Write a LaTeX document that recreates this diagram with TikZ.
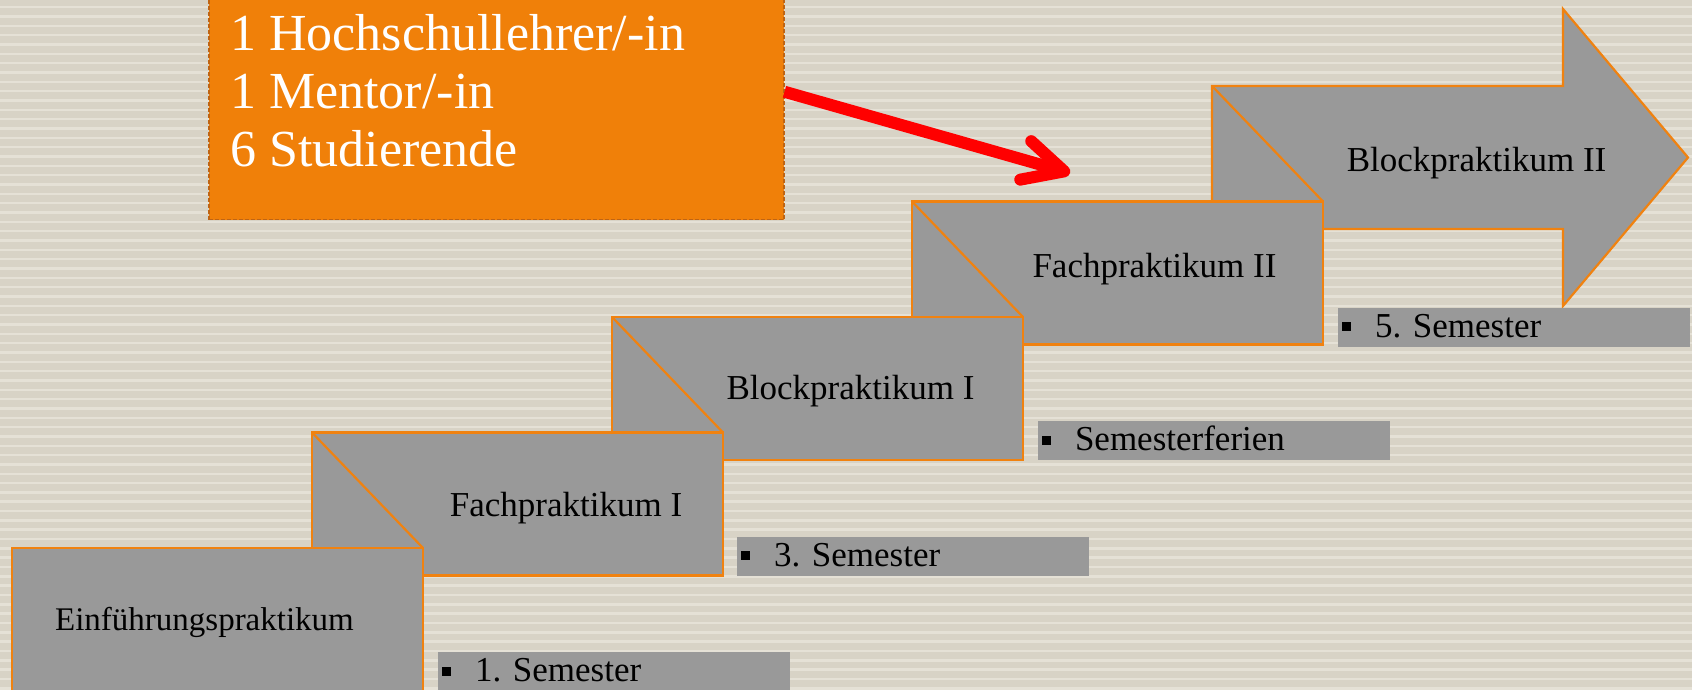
\documentclass[tikz,border=0pt]{standalone}
\usepackage{fontspec}
\setmainfont{Liberation Serif}
\usepackage{tikz}
\usetikzlibrary{arrows.meta,positioning,calc}

\definecolor{bgbeige}{RGB}{216,211,198}
\definecolor{bgstripe}{RGB}{229,225,214}
\definecolor{stepgray}{RGB}{153,153,153}
\definecolor{steporange}{RGB}{240,130,16}
\definecolor{infoorange}{RGB}{240,128,9}
\definecolor{infoborder}{RGB}{190,100,20}

\frenchspacing
\newcommand{\sqbullet}{\noindent\raisebox{6pt}{\rule{9pt}{9pt}}\hspace{24pt}}

\begin{document}
\begin{tikzpicture}[
    x=1pt, y=1pt,
    stepbox/.style={rectangle, draw=steporange, line width=2.2pt, fill=stepgray, minimum width=411pt, minimum height=143pt, inner sep=0pt, outer sep=0pt},
    stepline/.style={draw=steporange, line width=2.2pt},
    steptext/.style={anchor=base, inner sep=0pt, font=\fontsize{35}{42}\selectfont},
    semlabel/.style={rectangle, fill=stepgray, minimum width=352pt, minimum height=39pt, inner xsep=4pt, inner ysep=0pt, outer sep=0pt, text width=344pt, align=left, text height=20pt, text depth=0pt, font=\fontsize{35}{42}\selectfont},
    infobox/.style={rectangle, fill=infoorange, draw=infoborder, line width=1.5pt, dash pattern=on 4pt off 2pt, minimum width=575pt, minimum height=225pt, inner sep=0pt},
    infotext/.style={align=left, inner sep=0pt, text=white, font=\fontsize{52}{58}\selectfont},
    arrow/.style={-{Straight Barb[length=40pt, width=40pt, round]}, line width=12pt, red}
]

\useasboundingbox (0,0) rectangle (1692,689);
\clip (0,0) rectangle (1692,689);

% Background
\fill[bgbeige] (0,0) rectangle (1692,689);
\foreach \i in {0,...,73}
    \fill[bgstripe] (0,{683-\i*9.33}) rectangle ++(1692,-2.5);

% Last step (arrow)
\coordinate (s5) at (1212,460);
\draw[stepline, fill=stepgray] (s5) -- ++(0,143) coordinate (s5top) -- ++(351,0) -- ++(0,77) -- ++(125,-148.5) -- ++(-125,-148.5) -- ++(0,77) -- cycle;

% Steps
\node[stepbox, anchor=north east] (s4) at ($(s5)+(111,27.5)$) {};
\node[stepbox, below left=-27.5pt and -111pt of s4] (s3) {};
\node[stepbox, below left=-27.5pt and -111pt of s3] (s2) {};
\node[stepbox, below left=-27.5pt and -111pt of s2] (s1) {};

% Diagonals
\draw[stepline] (s5top) -- (s4.north east);
\draw[stepline] (s4.north west) -- (s3.north east);
\draw[stepline] (s3.north west) -- (s2.north east);
\draw[stepline] (s2.north west) -- (s1.north east);

% Step texts
\node[steptext] (t5) at ($(s5top)+(264.5,-86)$) {Blockpraktikum II};
\node[steptext] (t4) at ($(s4.north west)+(242.5,-76)$) {Fachpraktikum II};
\node[steptext] (t3) at ($(s3.north west)+(238.5,-82)$) {Blockpraktikum I};
\node[steptext] (t2) at ($(s2.north west)+(254,-83.5)$) {Fachpraktikum I};
\node[steptext, font=\fontsize{33}{40}\selectfont] (t1) at ($(s1.north west)+(192.5,-82)$) {Einführungspraktikum};

% Semester labels
\node[semlabel, above right=0pt and 15pt of s1.south east] (l1) {\sqbullet 1. Semester};
\node[semlabel, above right=0pt and 14pt of s2.south east] (l2) {\sqbullet 3. Semester};
\node[semlabel, above right=0pt and 15pt of s3.south east] (l3) {\sqbullet Semesterferien};
\node[semlabel, above right=-2.5pt and 15pt of s4.south east] (l4) {\sqbullet 5. Semester};

% Group box
\node[infobox, anchor=north west] (info) at (208,695) {};
\node[infotext, anchor=north west] (infotext) at ($(info.north west)+(22,-20)$) {1 Hochschullehrer/-in\\1 Mentor/-in\\6 Studierende};

% Red arrow
\coordinate (target) at (1070,516);
\draw[arrow] ($(info.east)+(0,15.5)$) -- (target);

\end{tikzpicture}
\end{document}
